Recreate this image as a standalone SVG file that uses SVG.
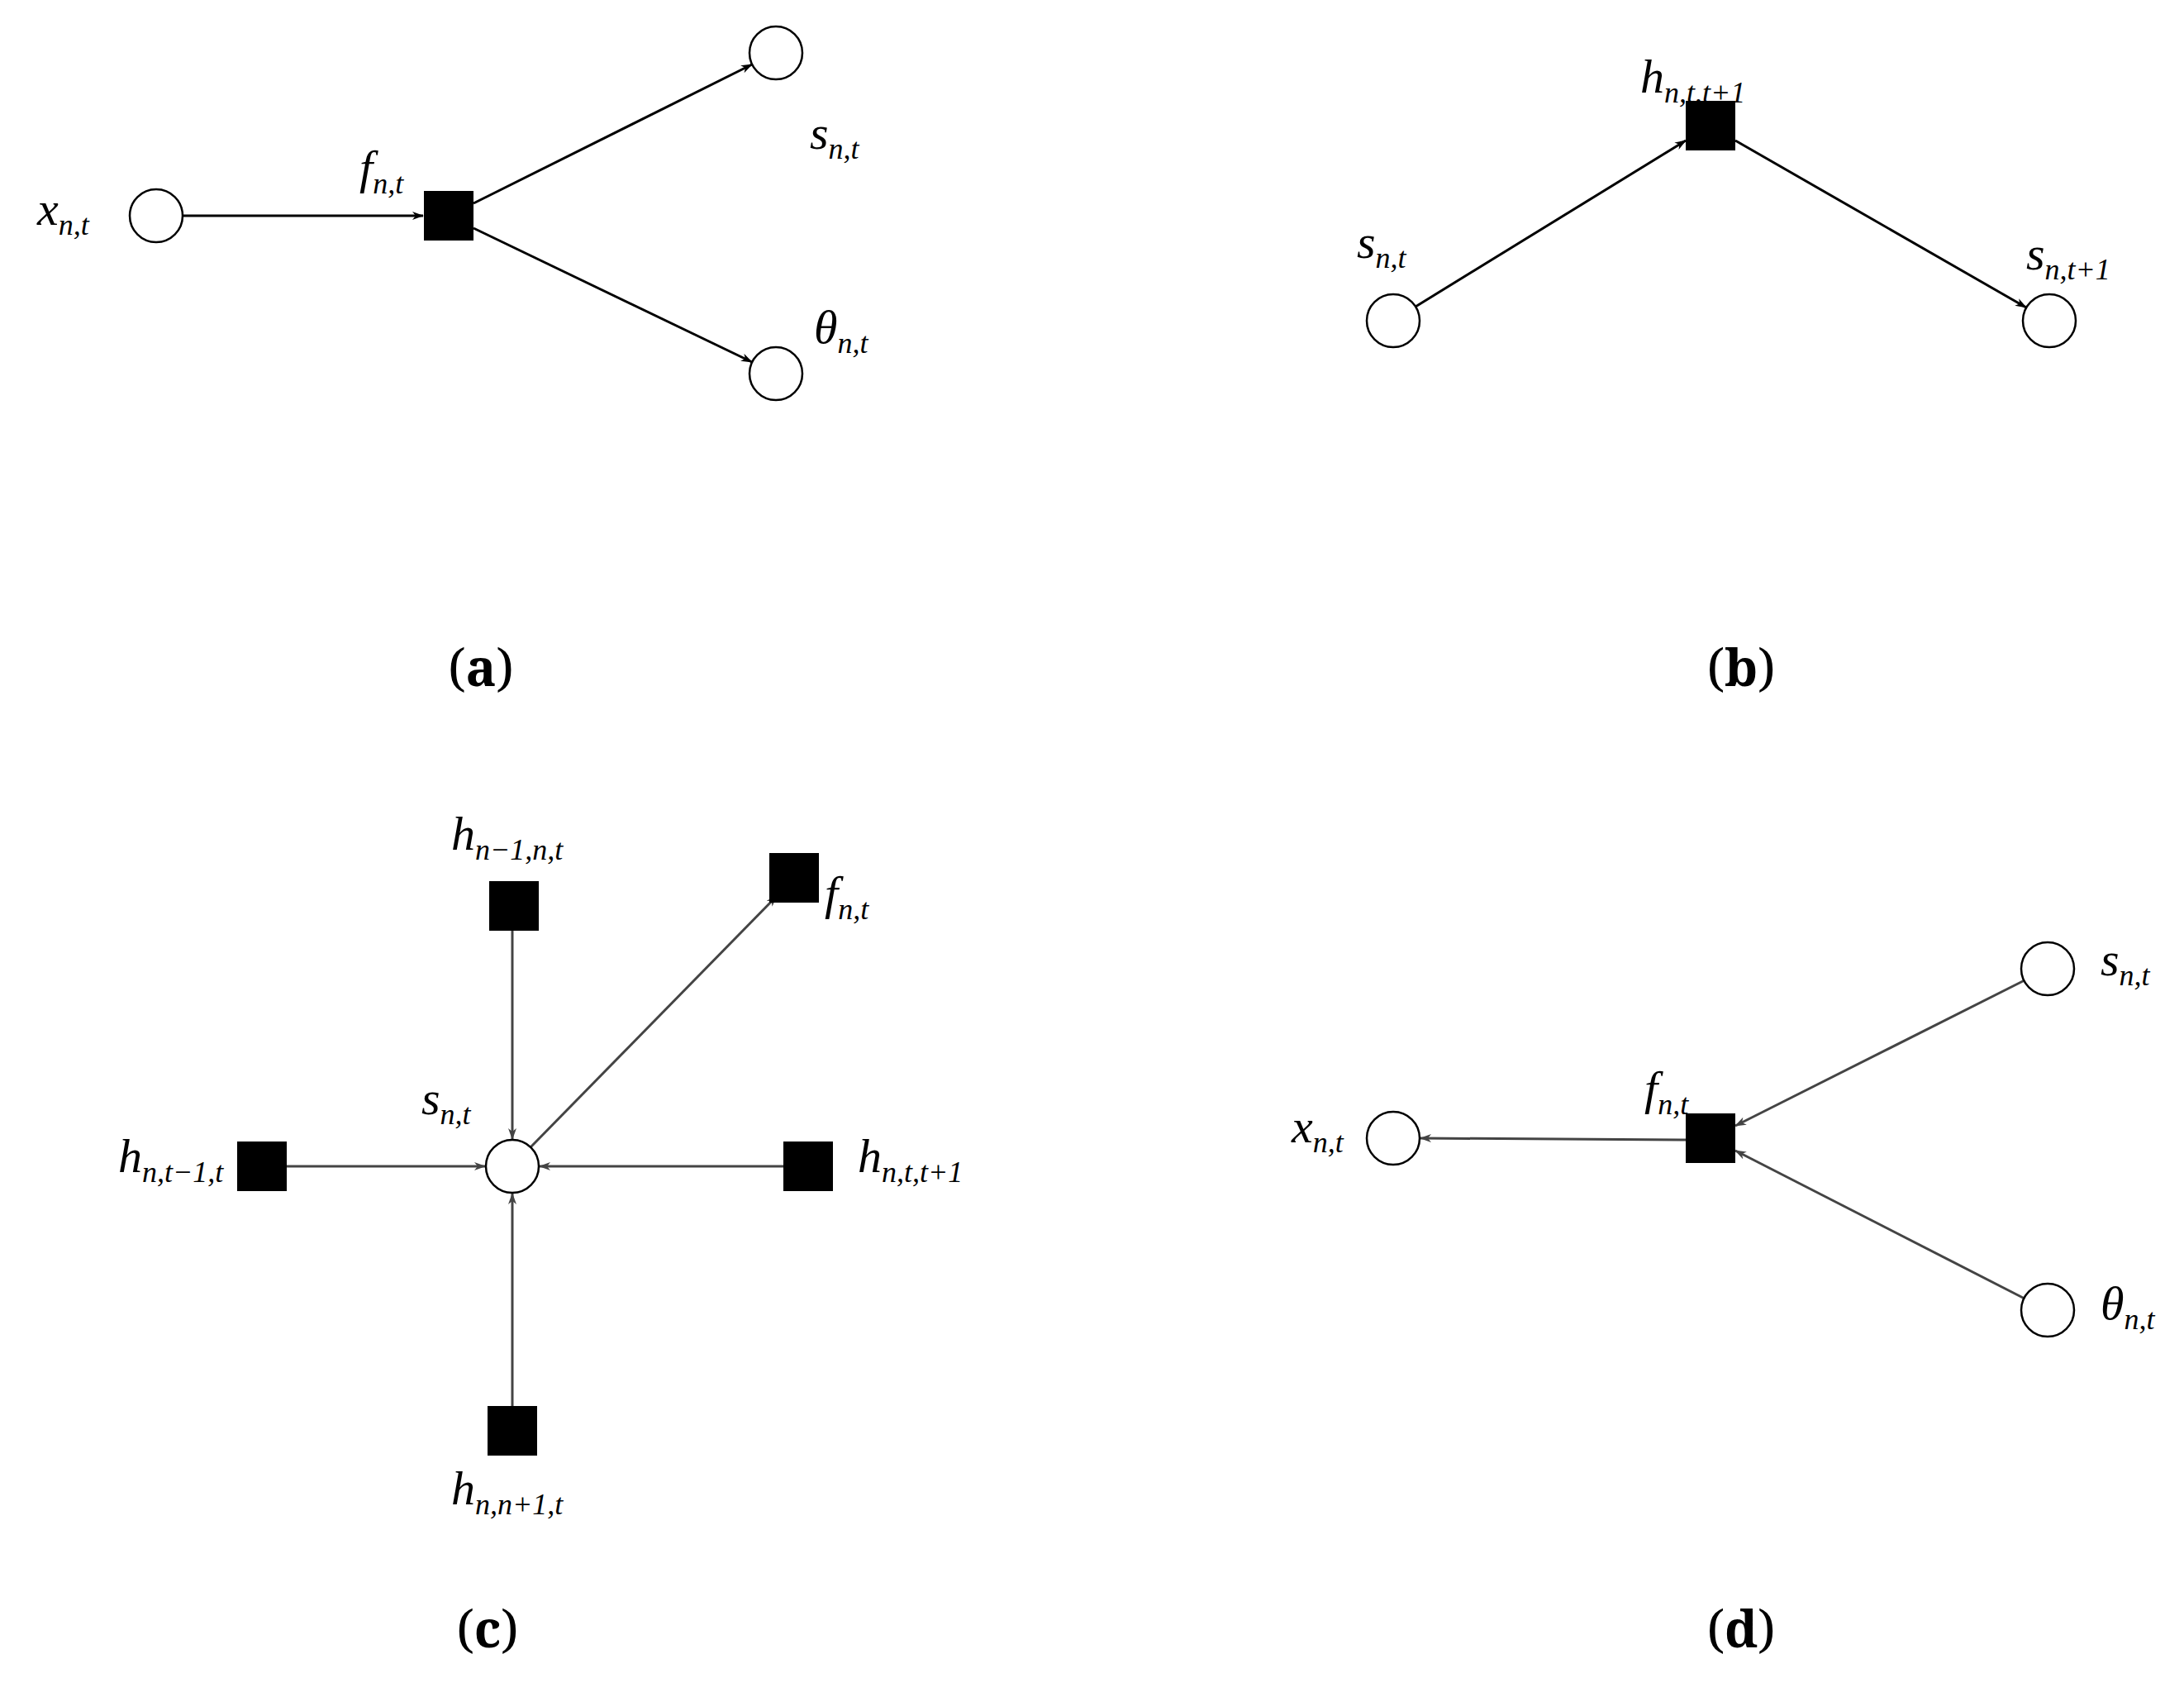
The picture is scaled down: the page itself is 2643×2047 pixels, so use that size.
<svg xmlns="http://www.w3.org/2000/svg" width="2643" height="2047" viewBox="0 0 2643 2047">
<style>
.c{fill:#fff;stroke:#000;stroke-width:2.5}
.s{fill:#000}
.e{stroke:#000;stroke-width:3;fill:none;marker-end:url(#ar)}
.g{stroke:#444;stroke-width:3;fill:none;marker-end:url(#ag)}
.t{font-family:"Liberation Serif",serif;font-style:italic;font-size:58px}
.sub{font-size:36px}
.cap{font-family:"Noto Serif","Liberation Serif",serif;font-size:62px}
</style>
<defs>
<marker id="ar" markerWidth="14" markerHeight="10" refX="13" refY="5" orient="auto" markerUnits="userSpaceOnUse"><path d="M0,0 L14,5 L0,10 L4,5 Z" fill="#000"/></marker>
<marker id="ag" markerWidth="14" markerHeight="10" refX="13" refY="5" orient="auto" markerUnits="userSpaceOnUse"><path d="M0,0 L14,5 L0,10 L4,5 Z" fill="#444"/></marker>
</defs>
<rect width="2643" height="2047" fill="#fff"/>
<g id="connectors">
<line class="e" x1="221" y1="261" x2="512" y2="261"/>
<line class="e" x1="573" y1="246" x2="910" y2="78"/>
<line class="e" x1="573" y1="276" x2="910" y2="438"/>
<line class="e" x1="1713" y1="371" x2="2040" y2="170"/>
<line class="e" x1="2100" y1="170" x2="2452" y2="372"/>
<line class="g" x1="620" y1="1126" x2="620" y2="1378"/>
<line class="g" x1="642" y1="1388" x2="940" y2="1084"/>
<line class="g" x1="948" y1="1411" x2="653" y2="1411"/>
<line class="g" x1="347" y1="1411" x2="587" y2="1411"/>
<line class="g" x1="620" y1="1701" x2="620" y2="1444"/>
<line class="g" x1="2040" y1="1379" x2="1719" y2="1377"/>
<line class="g" x1="2450" y1="1186" x2="2100" y2="1362"/>
<line class="g" x1="2450" y1="1571" x2="2100" y2="1392"/>
</g>
<g id="a_x"><circle class="c" cx="189" cy="261" r="32"/><text class="t" x="45" y="272">x<tspan class="sub" dy="12">n,t</tspan></text></g>
<g id="a_f"><rect class="s" x="513" y="231" width="60" height="60"/><text class="t" x="435" y="222">f<tspan class="sub" dy="12">n,t</tspan></text></g>
<g id="a_s"><circle class="c" cx="939" cy="64" r="32"/><text class="t" x="980" y="180">s<tspan class="sub" dy="12">n,t</tspan></text></g>
<g id="a_theta"><circle class="c" cx="939" cy="452" r="32"/><text class="t" x="985" y="415">θ<tspan class="sub" dy="12">n,t</tspan></text></g>
<text class="cap" x="582" y="830" text-anchor="middle">(<tspan font-weight="bold">a</tspan>)</text>
<g id="b_s"><circle class="c" cx="1686" cy="388" r="32"/><text class="t" x="1642" y="312">s<tspan class="sub" dy="12">n,t</tspan></text></g>
<g id="b_h"><rect class="s" x="2040" y="122" width="60" height="60"/><text class="t" x="1985" y="112">h<tspan class="sub" dy="12">n,t,t+1</tspan></text></g>
<g id="b_s1"><circle class="c" cx="2480" cy="388" r="32"/><text class="t" x="2452" y="326">s<tspan class="sub" dy="12">n,t+1</tspan></text></g>
<text class="cap" x="2107" y="830" text-anchor="middle">(<tspan font-weight="bold">b</tspan>)</text>
<g id="c_s"><circle class="c" cx="620" cy="1411" r="32"/><text class="t" x="510" y="1348">s<tspan class="sub" dy="12">n,t</tspan></text></g>
<g id="c_h1"><rect class="s" x="592" y="1066" width="60" height="60"/><text class="t" x="546" y="1028">h<tspan class="sub" dy="12">n−1,n,t</tspan></text></g>
<g id="c_f"><rect class="s" x="931" y="1032" width="60" height="60"/><text class="t" x="998" y="1100">f<tspan class="sub" dy="12">n,t</tspan></text></g>
<g id="c_h2"><rect class="s" x="287" y="1381" width="60" height="60"/><text class="t" x="143" y="1418">h<tspan class="sub" dy="12">n,t−1,t</tspan></text></g>
<g id="c_h3"><rect class="s" x="948" y="1381" width="60" height="60"/><text class="t" x="1038" y="1418">h<tspan class="sub" dy="12">n,t,t+1</tspan></text></g>
<g id="c_h4"><rect class="s" x="590" y="1701" width="60" height="60"/><text class="t" x="546" y="1820">h<tspan class="sub" dy="12">n,n+1,t</tspan></text></g>
<text class="cap" x="590" y="1993" text-anchor="middle">(<tspan font-weight="bold">c</tspan>)</text>
<g id="d_x"><circle class="c" cx="1686" cy="1377" r="32"/><text class="t" x="1563" y="1382">x<tspan class="sub" dy="12">n,t</tspan></text></g>
<g id="d_f"><rect class="s" x="2040" y="1347" width="60" height="60"/><text class="t" x="1990" y="1336">f<tspan class="sub" dy="12">n,t</tspan></text></g>
<g id="d_s"><circle class="c" cx="2478" cy="1172" r="32"/><text class="t" x="2542" y="1180">s<tspan class="sub" dy="12">n,t</tspan></text></g>
<g id="d_theta"><circle class="c" cx="2478" cy="1585" r="32"/><text class="t" x="2542" y="1596">θ<tspan class="sub" dy="12">n,t</tspan></text></g>
<text class="cap" x="2107" y="1993" text-anchor="middle">(<tspan font-weight="bold">d</tspan>)</text>
</svg>
